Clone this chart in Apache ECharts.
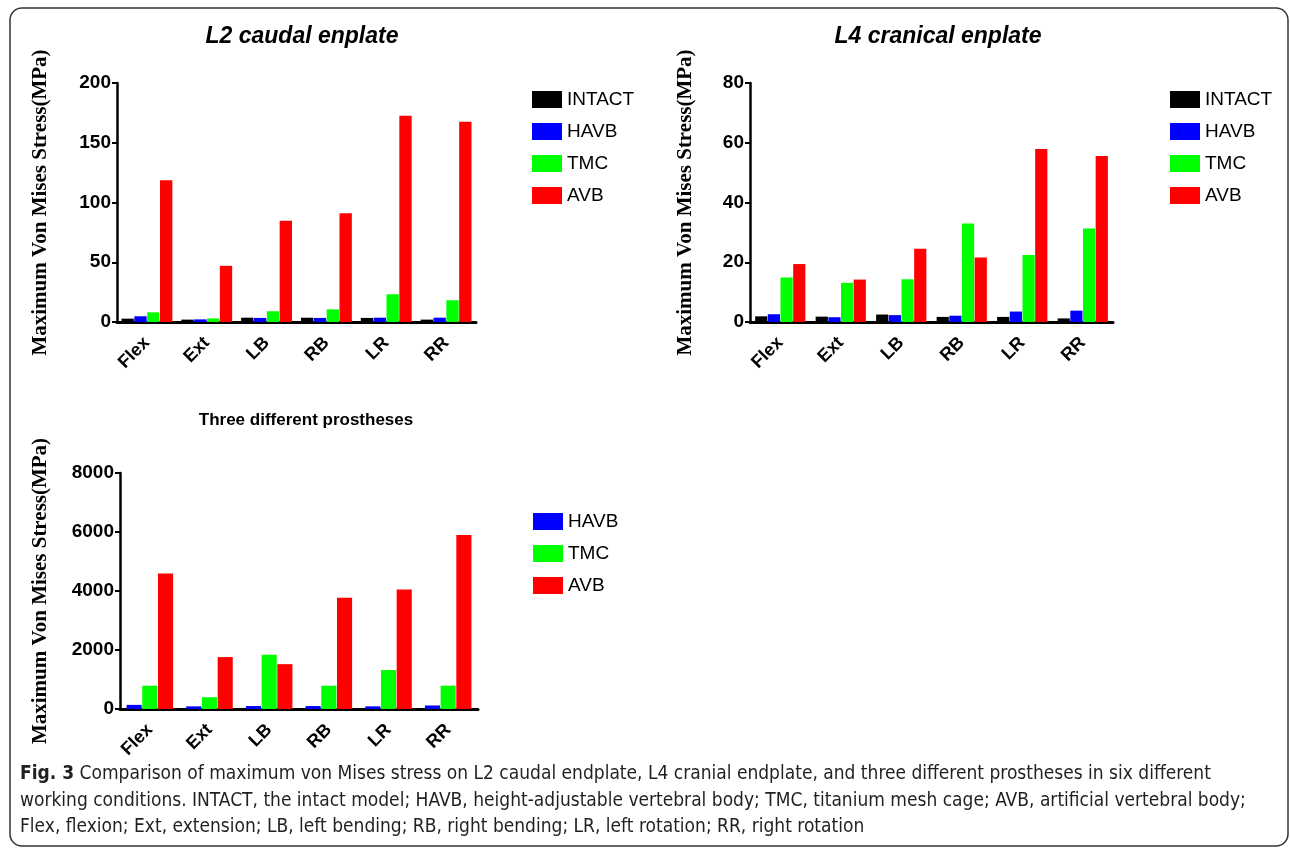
<!DOCTYPE html>
<html><head><meta charset="utf-8">
<script src="https://cdn.jsdelivr.net/npm/echarts@6/dist/echarts.min.js"></script>
<style>html,body{margin:0;padding:0;background:#fff}#c{width:1290px;height:856px}</style>
</head><body><div id="c"></div>
<script>
const categories = ['Flex','Ext','LB','RB','LR','RR'];
const yTicksL2 = {min:0,max:200,interval:50};
const yTicksL4 = {min:0,max:80,interval:20};
const yTicksPro = {min:0,max:8000,interval:2000};

const l2Intact = [2.8,2.0,3.6,3.6,3.4,2.0];
const l2Havb   = [4.8,2.2,3.4,3.4,3.6,3.6];
const l2Tmc    = [8.1,3.0,9.0,10.6,23.2,18.2];
const l2Avb    = [118.6,47.0,84.8,90.9,172.6,167.6];

const l4Intact = [1.9,1.8,2.5,1.7,1.7,1.2];
const l4Havb   = [2.6,1.6,2.3,2.1,3.5,3.8];
const l4Tmc    = [14.9,13.1,14.3,33.0,22.4,31.3];
const l4Avb    = [19.4,14.2,24.5,21.6,57.9,55.6];

const proHavb  = [140,90,100,100,90,120];
const proTmc   = [790,400,1840,790,1320,790];
const proAvb   = [4590,1760,1520,3770,4050,5900];

const colors = {INTACT:'#000000', HAVB:'#0000ff', TMC:'#00ff00', AVB:'#ff0000'};
const yName = 'Maximum Von Mises Stress(MPa)';

const chart = echarts.init(document.getElementById('c'));

function xAxis(gi){
  return {type:'category', gridIndex:gi, data:categories,
    axisLine:{lineStyle:{color:'#000',width:3}},
    axisTick:{alignWithLabel:true,length:6,lineStyle:{color:'#000',width:2}},
    axisLabel:{rotate:45,color:'#000',fontFamily:'Liberation Sans, Arial',fontWeight:'bold',fontSize:18,margin:18}};
}
function yAxis(gi,t,gap){
  return {type:'value', gridIndex:gi, min:t.min, max:t.max, interval:t.interval,
    name:yName, nameLocation:'middle', nameGap:gap,
    nameTextStyle:{fontFamily:'Liberation Serif, Times New Roman',fontWeight:'bold',fontSize:21,color:'#000'},
    splitLine:{show:false},
    axisLine:{show:true,lineStyle:{color:'#000',width:2.5}},
    axisTick:{show:true,length:5,lineStyle:{color:'#000',width:2}},
    axisLabel:{color:'#000',fontFamily:'Liberation Sans, Arial',fontWeight:'bold',fontSize:19,margin:6,
      formatter:function(v){return String(v);}}};
}
function bar(name,gi,data,catGap){
  return {type:'bar', name:name, xAxisIndex:gi, yAxisIndex:gi, data:data,
    barGap:'4%', barCategoryGap:catGap, itemStyle:{color:colors[name]}};
}
const legendCommon = {orient:'vertical', icon:'rect', itemWidth:30, itemHeight:17, itemGap:13,
  textStyle:{fontFamily:'Liberation Sans, Arial',fontSize:19,color:'#000'}};

chart.setOption({
  animation:false,
  title:[
    {text:'L2 caudal enplate', left:297, top:20, textAlign:'center',
      textStyle:{fontFamily:'Liberation Sans, Arial',fontStyle:'italic',fontWeight:'bold',fontSize:23,color:'#000'}},
    {text:'L4 cranical enplate', left:933, top:20, textAlign:'center',
      textStyle:{fontFamily:'Liberation Sans, Arial',fontStyle:'italic',fontWeight:'bold',fontSize:23,color:'#000'}},
    {text:'Three different prostheses', left:301, top:407, textAlign:'center',
      textStyle:{fontFamily:'Liberation Sans, Arial',fontWeight:'bold',fontSize:17,color:'#000'}}
  ],
  legend:[
    Object.assign({left:527, top:85, data:['INTACT','HAVB','TMC','AVB']}, legendCommon),
    Object.assign({left:1165, top:85, data:['INTACT','HAVB','TMC','AVB']}, legendCommon),
    Object.assign({left:528, top:507, data:['HAVB','TMC','AVB']}, legendCommon)
  ],
  grid:[
    {left:117, top:83, width:359, height:239},
    {left:750, top:83, width:363, height:239},
    {left:120, top:473, width:358, height:236}
  ],
  xAxis:[xAxis(0),xAxis(1),xAxis(2)],
  yAxis:[yAxis(0,yTicksL2,66), yAxis(1,yTicksL4,54), yAxis(2,yTicksPro,69)],
  series:[
    bar('INTACT',0,l2Intact,'15%'), bar('HAVB',0,l2Havb,'15%'), bar('TMC',0,l2Tmc,'15%'), bar('AVB',0,l2Avb,'15%'),
    bar('INTACT',1,l4Intact,'17%'), bar('HAVB',1,l4Havb,'17%'), bar('TMC',1,l4Tmc,'17%'), bar('AVB',1,l4Avb,'17%'),
    bar('HAVB',2,proHavb,'22%'), bar('TMC',2,proTmc,'22%'), bar('AVB',2,proAvb,'22%')
  ],
  graphic:[
    {type:'rect', shape:{x:10,y:8,width:1278,height:838,r:12}, silent:true,
      style:{fill:'none',stroke:'#333',lineWidth:1.5}},
    {type:'text', left:20, top:765, style:{
      text:'{b|Fig. 3} Comparison of maximum von Mises stress on L2 caudal endplate, L4 cranial endplate, and three different prostheses in six different',
      rich:{b:{fontWeight:'bold',fontFamily:'Liberation Sans Narrow, DejaVu Sans Condensed, sans-serif',fontSize:19,fill:'#231f20'}},
      fontFamily:'Liberation Sans Narrow, DejaVu Sans Condensed, sans-serif', fontSize:19, fill:'#231f20'}},
    {type:'text', left:20, top:792, style:{
      text:'working conditions. INTACT, the intact model; HAVB, height-adjustable vertebral body; TMC, titanium mesh cage; AVB, artificial vertebral body;',
      fontFamily:'Liberation Sans Narrow, DejaVu Sans Condensed, sans-serif', fontSize:19, fill:'#231f20'}},
    {type:'text', left:20, top:818, style:{
      text:'Flex, flexion; Ext, extension; LB, left bending; RB, right bending; LR, left rotation; RR, right rotation',
      fontFamily:'Liberation Sans Narrow, DejaVu Sans Condensed, sans-serif', fontSize:19, fill:'#231f20'}}
  ]
});
</script></body></html>
